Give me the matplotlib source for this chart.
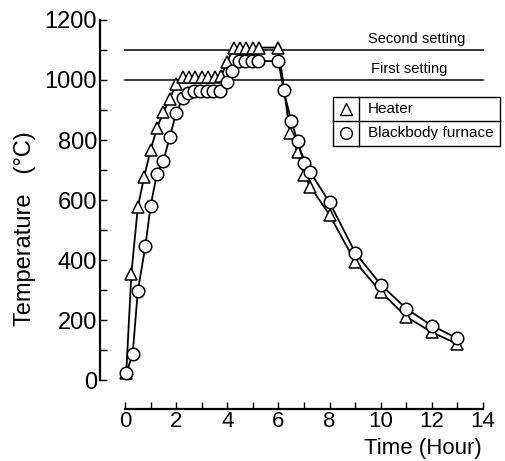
import matplotlib
matplotlib.use("Agg")
import matplotlib.pyplot as plt
from matplotlib.patches import Rectangle
from matplotlib.lines import Line2D

plt.rcParams['font.family'] = ['Liberation Sans', 'DejaVu Sans']

# Heater (triangles)
heater_t = [0.05, 0.25, 0.5, 0.75, 1.0, 1.25, 1.5, 1.75, 2.0,
            2.25, 2.5, 2.75, 3.0, 3.25, 3.5, 3.75,
            4.0, 4.25, 4.5, 4.75, 5.0, 5.25, 6.0,
            6.45, 6.75, 7.0, 7.25, 8.0, 9.0, 10.0, 11.0, 12.0, 13.0]
heater_T = [25, 355, 575, 678, 766, 840, 892, 936, 988,
            1010, 1010, 1010, 1010, 1010, 1010, 1012,
            1060, 1108, 1108, 1108, 1108, 1108, 1108,
            824, 760, 683, 644, 550, 394, 294, 211, 159, 120]

# Blackbody furnace (circles)
furnace_t = [0.05, 0.3, 0.5, 0.8, 1.0, 1.25, 1.5, 1.75, 2.0, 2.25,
             2.45, 2.7, 2.95, 3.2, 3.45, 3.7, 4.0, 4.2,
             4.45, 4.7, 4.95, 5.2, 6.0,
             6.2, 6.5, 6.75, 7.0, 7.25, 8.0, 9.0, 10.0, 11.0, 12.0, 13.0]
furnace_T = [22, 87, 296, 448, 580, 688, 730, 810, 889, 939,
             956, 964, 964, 964, 964, 964, 992, 1030,
             1063, 1063, 1063, 1063, 1063,
             967, 862, 798, 722, 692, 592, 425, 318, 238, 181, 139]

settings = [1100, 1000]
setting_labels = ["Second setting", "First setting"]
setting_label_x = [11.4, 11.1]

W, H = 505, 461
fig = plt.figure(figsize=(W / 100, H / 100), dpi=100)
ax = fig.add_axes([125 / W, 1 - 380 / H, 358 / W, 360 / H])


def fx(px):
    return px / W


def fy(py):
    return 1 - py / H


# setting lines
for s, lab, lx in zip(settings, setting_labels, setting_label_x):
    ax.plot([0, 14], [s, s], color='black', lw=1.1, clip_on=False, zorder=1)
    ax.text(lx, s + 12, lab, ha='center', va='bottom', fontsize=10.5)

ax.plot(heater_t, heater_T, color='black', lw=1.3, marker='^', ms=8.5,
        mfc='white', mec='black', mew=1.1, clip_on=False, zorder=3)
ax.plot(furnace_t, furnace_T, color='black', lw=1.3, marker='o', ms=9,
        mfc='white', mec='black', mew=1.1, clip_on=False, zorder=4)

ax.set_xlim(0, 14)
ax.set_ylim(0, 1200)
ax.set_xticks(range(0, 15, 2))
ax.set_xticks(range(0, 15), minor=True)
ax.set_yticks(range(0, 1201, 200))
ax.set_yticks(range(0, 1201, 100), minor=True)

for side in ['top', 'right']:
    ax.spines[side].set_visible(False)
ax.spines['left'].set_position(('outward', 18))
ax.spines['bottom'].set_position(('outward', 21))
ax.spines['left'].set_bounds(0, 1200)
ax.spines['bottom'].set_bounds(0, 14)
ax.spines['left'].set_linewidth(1.6)
ax.spines['bottom'].set_linewidth(1.6)

ax.tick_params(axis='both', which='both', direction='in', length=5, width=1)
ax.tick_params(axis='x', which='major', labelsize=16, pad=1)
ax.tick_params(axis='y', which='major', labelsize=17, pad=2)

# axis titles placed where the reference has them
fig.text(fx(25), fy(229), "Temperature   (°C)", rotation=90,
         ha='center', va='center', fontsize=17)
fig.text(fx(482), fy(448), "Time (Hour)", ha='right', va='center', fontsize=16)

# legend drawn as a small table
fig.add_artist(Rectangle((fx(333), fy(146)), (500 - 333) / W, (146 - 97) / H,
                         transform=fig.transFigure, fill=False,
                         edgecolor='black', lw=1.0))
fig.add_artist(Line2D([fx(359), fx(359)], [fy(97), fy(146)],
                      transform=fig.transFigure, color='black', lw=1.0))
fig.add_artist(Line2D([fx(333), fx(500)], [fy(121), fy(121)],
                      transform=fig.transFigure, color='black', lw=1.0))
fig.add_artist(Line2D([fx(346)], [fy(109)], transform=fig.transFigure,
                      marker='^', ms=8, mfc='white', mec='black', mew=1.0, lw=0))
fig.add_artist(Line2D([fx(346)], [fy(133)], transform=fig.transFigure,
                      marker='o', ms=8.5, mfc='white', mec='black', mew=1.0, lw=0))
fig.text(fx(368), fy(109), "Heater", ha='left', va='center', fontsize=11)
fig.text(fx(368), fy(133), "Blackbody furnace", ha='left', va='center', fontsize=11)

fig.savefig("out.png", dpi=100)
